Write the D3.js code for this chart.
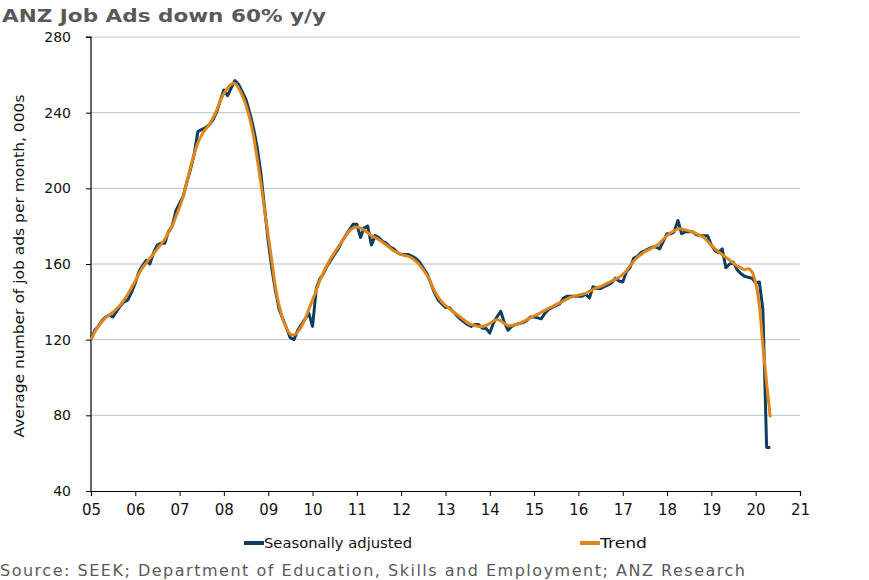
<!DOCTYPE html>
<html>
<head>
<meta charset="utf-8">
<script src="https://cdnjs.cloudflare.com/ajax/libs/d3/7.8.5/d3.min.js"></script>
<style>
  body { margin: 0; background: #fff; }
  svg { display: block; font-family: "DejaVu Sans", Verdana, sans-serif; }
</style>
</head>
<body>
<div id="chart"></div>
<script>
// monthly series, first point = Jan 2005
const startMonth = new Date(2005, 0, 1);

// Seasonally adjusted, 000s
const seasAdj = [
  120, 125, 127, 130, 132, 133, 132, 135, 138, 140, 141, 145,          // 2005
  150, 156, 159, 162, 160, 166, 170, 171, 171, 177, 180, 188,          // 2006
  192, 196, 203, 210, 218, 230, 231, 232, 233.5, 236, 240, 246,        // 2007
  252, 249, 253, 257, 255, 251, 247, 240, 232, 222, 208, 190,          // 2008
  172, 157, 146, 136, 131, 126, 121, 120, 125, 128, 131, 134,          // 2009
  127, 147, 152, 155, 159, 162, 165, 168, 172, 175, 178, 181,          // 2010
  181, 174, 179, 180, 170, 175, 174, 172, 171, 169, 168, 166,          // 2011
  165, 165, 165, 164, 163, 161, 158, 155, 150, 145, 141, 139,          // 2012
  137, 137, 135, 133, 131, 129.5, 128, 127, 128, 128, 126, 126,        // 2013
  123.5, 129, 132, 135, 129, 125, 127, 128, 128.5, 129, 130, 132,      // 2014
  132, 131.5, 131, 134, 136, 137, 138, 139, 142, 143, 143, 143,        // 2015
  143, 143, 144, 142, 148, 147, 147, 148, 149, 150, 152.5, 151,        // 2016
  150.5, 156, 158, 163, 164, 166, 167, 168, 169, 169, 168, 172,        // 2017
  176, 176, 177, 183, 176, 177, 177, 177, 175.5, 175, 175, 175,        // 2018
  170, 167, 166, 168, 158, 160, 161, 157, 155, 153.5, 153, 152.5,      // 2019
  150, 150.5, 136, 63, 63                                              // 2020
];

// Trend, 000s
const trend = [
  120, 124, 127, 129.5, 131.5, 133, 134.5, 136.5, 138.5, 141, 144, 147.5,
  151, 155, 158, 160.5, 163, 165.5, 168, 170.5, 173, 176.5, 180, 185,
  190, 196, 203, 211, 218, 224, 228, 231, 233.5, 237, 241, 246,
  250, 253, 255, 255.5, 253, 249, 244, 237, 228, 216, 203, 189,
  175, 161, 148, 138, 131, 126, 123, 122.5, 124, 127, 131, 136,
  141, 146, 151, 155.5, 159.5, 163, 166, 169, 172, 175, 177.5, 179,
  179.5, 179, 178, 176.5, 175, 174, 173, 171.5, 170, 168.5, 167, 166,
  165, 164.5, 164, 163, 161.5, 159.5, 157, 154, 150, 146, 142.5, 140,
  138, 136.5, 135, 133.5, 132, 130.5, 129, 128, 127.5, 127, 127, 127.5,
  128.5, 130, 130.5, 130, 128.5, 127.5, 127.5, 128, 128.5, 129.5, 130.5, 131.5,
  132.5, 133.5, 134.5, 135.5, 136.5, 137.5, 138.5, 139.5, 140.5, 141.5, 142.5, 143,
  143.5, 144, 144.5, 145.5, 146.5, 147.5, 148, 149, 150, 151, 152, 153,
  154.5, 156.5, 159, 161.5, 163.5, 165, 166.5, 167.5, 168.5, 169.5, 171, 173,
  175, 176.5, 177.5, 178.5, 178.5, 178, 177.5, 177, 176, 175, 174, 172,
  170, 168, 166.5, 165, 163.5, 162, 160.5, 159, 158, 157, 157.5, 156,
  150, 138, 117, 97, 79
];

const yTicks = [40, 80, 120, 160, 200, 240, 280];
const yearTicks = d3.range(2005, 2022);

const W = 869, H = 580;
const margin = {top: 37, right: 69, bottom: 89, left: 91};
const width = W - margin.left - margin.right;
const height = H - margin.top - margin.bottom;

const svg = d3.select("#chart").append("svg")
    .attr("width", W)
    .attr("height", H);

// title
svg.append("text")
    .attr("x", 2).attr("y", 22)
    .attr("font-size", 18).attr("font-weight", "bold")
    .attr("fill", "#595959")
    .attr("textLength", 324).attr("lengthAdjust", "spacingAndGlyphs")
    .text("ANZ Job Ads down 60% y/y");

const g = svg.append("g")
    .attr("transform", `translate(${margin.left},${margin.top})`);

const x = d3.scaleTime()
    .domain([new Date(2005, 0, 1), new Date(2021, 0, 1)])
    .range([0, width]);
const y = d3.scaleLinear().domain([40, 280]).range([height, 0]);

// gridlines
g.append("g").selectAll("line")
    .data(yTicks.filter(d => d > 40))
    .join("line")
    .attr("x1", 0).attr("x2", width)
    .attr("y1", d => y(d)).attr("y2", d => y(d))
    .attr("stroke", "#b9c5c9").attr("stroke-width", 1);

// axes
const yAxis = g.append("g")
    .call(d3.axisLeft(y).tickValues(yTicks).tickSize(5).tickPadding(15));
const xAxis = g.append("g")
    .attr("transform", `translate(0,${height})`)
    .call(d3.axisBottom(x)
        .tickValues(yearTicks.map(yr => new Date(yr, 0, 1)))
        .tickFormat(d3.timeFormat("%y"))
        .tickSize(5).tickPadding(8));

[yAxis, xAxis].forEach(a => {
    a.select(".domain").attr("stroke", "#000").attr("stroke-width", 1.2);
    a.selectAll(".tick line").attr("stroke", "#000");
    a.selectAll("text").attr("font-size", 14).attr("fill", "#111")
        .attr("font-family", "'DejaVu Sans', Verdana, sans-serif");
});
yAxis.select(".domain").attr("d", `M-5,0H0V${height}`);
xAxis.selectAll("text").attr("font-size", 15);

// y axis title
svg.append("text")
    .attr("transform", `translate(24,266) rotate(-90)`)
    .attr("text-anchor", "middle")
    .attr("font-size", 14).attr("fill", "#111")
    .attr("textLength", 343).attr("lengthAdjust", "spacingAndGlyphs")
    .text("Average number of job ads per month, 000s");

const dateOf = i => d3.timeMonth.offset(startMonth, i);

const saLine = d3.line()
    .x((d, i) => x(dateOf(i)))
    .y(d => y(d));

const trendLine = d3.line()
    .x((d, i) => x(dateOf(i)))
    .y(d => y(d))
    .curve(d3.curveCatmullRom.alpha(0.5));

const saColor = "#0d3d61";
const trendColor = "#df871d";

g.append("path").datum(seasAdj)
    .attr("fill", "none")
    .attr("stroke", saColor)
    .attr("stroke-width", 3)
    .attr("stroke-linejoin", "round")
    .attr("d", saLine);

g.append("path").datum(trend)
    .attr("fill", "none")
    .attr("stroke", trendColor)
    .attr("stroke-width", 3)
    .attr("stroke-linejoin", "round")
    .attr("d", trendLine);

// legend
const legend = [
    {name: "Seasonally adjusted", color: saColor, x: 244, w: 148},
    {name: "Trend", color: trendColor, x: 580, w: 47}
];
const lg = svg.append("g").attr("transform", "translate(0,543)");
legend.forEach(l => {
    lg.append("line")
        .attr("x1", l.x).attr("x2", l.x + 20)
        .attr("y1", 0).attr("y2", 0)
        .attr("stroke", l.color).attr("stroke-width", 4);
    lg.append("text")
        .attr("x", l.x + 20).attr("y", 5)
        .attr("font-size", 14).attr("fill", "#111")
        .attr("textLength", l.w).attr("lengthAdjust", "spacingAndGlyphs")
        .text(l.name);
});

// source
svg.append("text")
    .attr("x", 0).attr("y", 576)
    .attr("font-size", 16).attr("fill", "#595959")
    .attr("textLength", 745).attr("lengthAdjust", "spacing")
    .text("Source: SEEK; Department of Education, Skills and Employment; ANZ Research");
</script>
</body>
</html>
